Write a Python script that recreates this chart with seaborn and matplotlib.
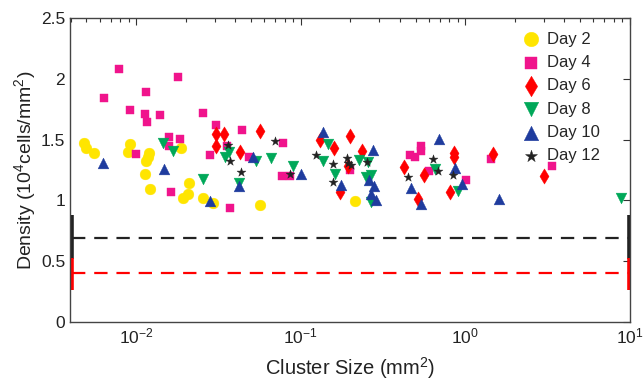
import numpy as np
import pandas as pd
import seaborn as sns
import matplotlib.pyplot as plt

# cluster size (mm^2) and density (10^4 cells/mm^2) per day
day2_size = [0.00481, 0.00498, 0.00557, 0.00921, 0.00895, 0.01206, 0.01178, 0.01145, 0.01887,
             0.01129, 0.01218, 0.0211, 0.0206, 0.0193, 0.02565, 0.02938, 0.0564, 0.2128]
day2_dens = [1.473, 1.429, 1.388, 1.465, 1.399, 1.393, 1.355, 1.322, 1.432,
             1.219, 1.090, 1.139, 1.055, 1.019, 1.022, 0.975, 0.961, 0.994]

day4_size = [0.00793, 0.0181, 0.00637, 0.01157, 0.00921, 0.0114, 0.01393, 0.01168, 0.02565, 0.03077,
             0.04384, 0.01595, 0.01861, 0.0158, 0.00996, 0.02802, 0.0359, 0.0488, 0.0164, 0.0371,
             0.0777, 0.0771, 0.0862, 0.1995, 0.459, 0.497, 0.540, 0.538, 0.604, 1.01, 1.438, 3.375]
day4_dens = [2.080, 2.011, 1.839, 1.888, 1.740, 1.711, 1.705, 1.648, 1.719, 1.617,
             1.582, 1.525, 1.506, 1.451, 1.383, 1.371, 1.451, 1.361, 1.068, 0.940,
             1.470, 1.202, 1.199, 1.248, 1.371, 1.358, 1.448, 1.410, 1.240, 1.170, 1.342, 1.281]

day6_size = [0.03077, 0.0341, 0.0306, 0.0426, 0.0564, 0.1304, 0.1995, 0.1595, 0.2369, 0.194,
             0.1725, 0.422, 0.564, 0.513, 0.849, 0.849, 0.803, 1.465, 3.005]
day6_dens = [1.549, 1.549, 1.445, 1.399, 1.568, 1.498, 1.530, 1.432, 1.410, 1.281,
             1.066, 1.273, 1.211, 1.011, 1.391, 1.358, 1.068, 1.383, 1.202]

day8_size = [0.01452, 0.0168, 0.02565, 0.0349, 0.0369, 0.0424, 0.0538, 0.0664, 0.0899, 0.1458,
             0.136, 0.1609, 0.225, 0.2576, 0.2687, 0.2495, 0.2676, 0.651, 0.903, 8.77]
day8_dens = [1.473, 1.407, 1.172, 1.361, 1.396, 1.145, 1.322, 1.350, 1.284, 1.465,
             1.322, 1.221, 1.334, 1.314, 1.207, 1.194, 0.986, 1.257, 1.074, 1.022]

day10_size = [0.00634, 0.01488, 0.028, 0.042, 0.0516, 0.100, 0.1368, 0.2736, 0.2588, 0.2774,
              0.1766, 0.2687, 0.288, 0.689, 0.470, 0.540, 0.870, 0.955, 1.593]
day10_dens = [1.307, 1.258, 0.994, 1.117, 1.358, 1.213, 1.560, 1.418, 1.166, 1.117,
              1.125, 1.049, 1.002, 1.508, 1.098, 0.967, 1.268, 1.137, 1.008]

day12_size = [0.0364, 0.0371, 0.0435, 0.0695, 0.0862, 0.1245, 0.1564, 0.1912, 0.194, 0.2023,
              0.253, 0.1564, 0.4465, 0.633, 0.683, 0.837]
day12_dens = [1.453, 1.322, 1.232, 1.492, 1.219, 1.371, 1.301, 1.350, 1.309, 1.289,
              1.317, 1.150, 1.194, 1.342, 1.240, 1.211]

# reference levels (mean with lower / upper error) drawn across the size range
line_x = [0.0041, 9.8]
black_level, black_err = 0.69, (0.17, 0.19)
red_level, red_err = 0.40, (0.14, 0.13)

y_ticks = [0, 0.5, 1, 1.5, 2, 2.5]
y_tick_labels = ['0', '0.5', '1', '1.5', '2', '2.5']

days = ['Day 2', 'Day 4', 'Day 6', 'Day 8', 'Day 10', 'Day 12']
sizes = [day2_size, day4_size, day6_size, day8_size, day10_size, day12_size]
dens = [day2_dens, day4_dens, day6_dens, day8_dens, day10_dens, day12_dens]

df = pd.concat([pd.DataFrame({'size': s, 'density': d, 'day': n})
                for s, d, n in zip(sizes, dens, days)], ignore_index=True)

colors = {'Day 2': '#FFE500', 'Day 4': '#F0148C', 'Day 6': '#FF0000',
          'Day 8': '#00A859', 'Day 10': '#1F3C9E', 'Day 12': '#222222'}
markers = {'Day 2': 'o', 'Day 4': 's', 'Day 6': 'd', 'Day 8': 'v', 'Day 10': '^', 'Day 12': '*'}
msize = {'Day 2': 60, 'Day 4': 36, 'Day 6': 60, 'Day 8': 60, 'Day 10': 60, 'Day 12': 45}

sns.set_style('white')
plt.rcParams['font.family'] = ['Liberation Sans', 'DejaVu Sans']
plt.rcParams['mathtext.fontset'] = 'custom'
plt.rcParams['mathtext.rm'] = 'Liberation Sans'
plt.rcParams['mathtext.it'] = 'Liberation Sans:italic'

fig = plt.figure(figsize=(6.43, 3.82), dpi=100)
ax = fig.add_axes([70 / 643, 60 / 382, 560 / 643, 304 / 382])

for day in days:
    sns.scatterplot(data=df[df['day'] == day], x='size', y='density', ax=ax,
                    color=colors[day], marker=markers[day], s=msize[day],
                    edgecolor=colors[day], linewidth=0.3, label=day, zorder=3)

for level, err, col in [(black_level, black_err, '#222222'), (red_level, red_err, '#FF0000')]:
    ax.errorbar(line_x, [level, level], yerr=[[err[0]] * 2, [err[1]] * 2],
                fmt='none', ecolor=col, elinewidth=2.6, capsize=0, zorder=2)
    ax.plot(line_x, [level, level], color=col, lw=1.6, dashes=(6, 4), zorder=2)

ax.set_xscale('log')
ax.set_xlim(0.00397, 10)
ax.set_ylim(0, 2.5)
ax.set_yticks(y_ticks)
ax.set_yticklabels(y_tick_labels)

ax.set_xlabel('Cluster Size (mm$^2$)', fontsize=14.5, color='#222222', labelpad=6)
ax.set_ylabel('Density (10$^4$cells/mm$^2$)', fontsize=14, color='#222222', labelpad=2)

ax.tick_params(which='both', direction='in', top=True, right=True, labelsize=12.5,
               colors='#333333', labelcolor='#222222')
ax.tick_params(which='major', length=5, width=0.8)
ax.tick_params(which='minor', length=3, width=0.8)
for sp in ax.spines.values():
    sp.set_color('#444444')
    sp.set_linewidth(1)

ax.legend(loc='upper left', bbox_to_anchor=(0.805, 0.955), frameon=False, fontsize=12,
          handlelength=1.2, handletextpad=0.4, labelspacing=0.5, borderpad=0,
          borderaxespad=0, markerscale=1.35)

fig.savefig('out.png', dpi=100)
